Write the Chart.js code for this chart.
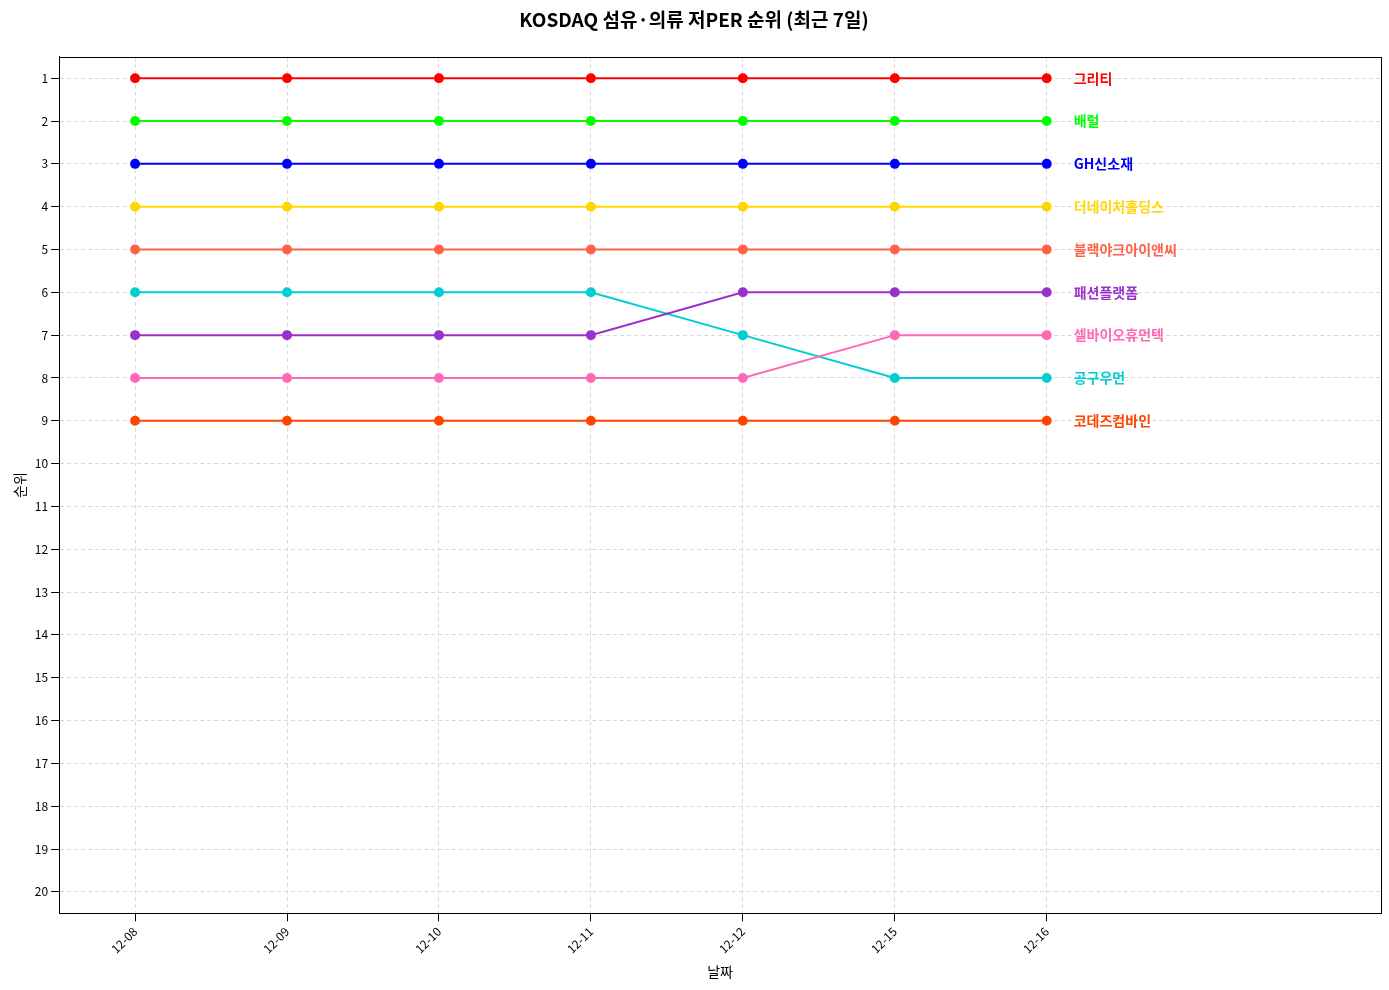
<!DOCTYPE html>
<html><head><meta charset="utf-8">
<script src="https://cdn.jsdelivr.net/npm/chart.js@4"></script>
<style>html,body{margin:0;padding:0;background:#fff}#wrap{width:1389px;height:990px}</style>
</head><body><div id="wrap"><canvas id="c" width="1389" height="990"></canvas></div>
<script>
const dates = ["12-08","12-09","12-10","12-11","12-12","12-15","12-16"];
const names = ["그리티","배럴","GH신소재","더네이처홀딩스","블랙야크아이앤씨","패션플랫폼","셀바이오휴먼텍","공구우먼","코데즈컴바인"];
const colors = ["#ff0000","#00ff00","#0000ff","#ffd700","#ff6347","#9932cc","#ff69b4","#00ced1","#ff4500"];
const r0 = [1,1,1,1,1,1,1];
const r1 = [2,2,2,2,2,2,2];
const r2 = [3,3,3,3,3,3,3];
const r3 = [4,4,4,4,4,4,4];
const r4 = [5,5,5,5,5,5,5];
const r5 = [7,7,7,7,6,6,6];
const r6 = [8,8,8,8,8,7,7];
const r7 = [6,6,6,6,7,8,8];
const r8 = [9,9,9,9,9,9,9];
const ranks = [r0,r1,r2,r3,r4,r5,r6,r7,r8];
const F = "'Noto Sans CJK KR', 'Noto Sans', sans-serif";
Chart.defaults.font.family = F;
Chart.defaults.color = "#000";
const datasets = names.map((n,i)=>({
  label:n, data: ranks[i].map((v,j)=>({x:j,y:v})),
  borderColor:colors[i], backgroundColor:colors[i], borderWidth:2,
  pointRadius:4, pointHoverRadius:4
}));
const endLabels = {
  id:'endLabels',
  afterDatasetsDraw(chart){
    const {ctx, scales:{x,y}, chartArea:a} = chart;
    ctx.save();
    ctx.strokeStyle = '#000'; ctx.lineWidth = 1;
    ctx.strokeRect(Math.round(a.left)+0.5, Math.round(a.top)+0.5, Math.round(a.right-a.left), Math.round(a.bottom-a.top));
    ctx.font = "bold 14px "+F;
    ctx.textBaseline = 'middle';
    names.forEach((n,i)=>{
      const last = ranks[i][ranks[i].length-1];
      ctx.fillStyle = colors[i];
      ctx.fillText(n, x.getPixelForValue(dates.length-1)+27, y.getPixelForValue(last));
    });
    ctx.restore();
  }
};
new Chart(document.getElementById('c'), {
  type:'line',
  data:{datasets},
  plugins:[endLabels],
  options:{
    responsive:false, animation:false,
    layout:{padding:{left:7,right:8,top:0,bottom:6}},
    plugins:{
      legend:{display:false}, tooltip:{enabled:false},
      title:{display:true,text:"KOSDAQ 섬유·의류 저PER 순위 (최근 7일)",font:{size:19,weight:'bold'},padding:{top:8,bottom:26}}
    },
    scales:{
      x:{type:'linear',min:-0.5,max:8.2,
        afterBuildTicks:(s)=>{s.ticks=dates.map((d,i)=>({value:i}));},
        ticks:{callback:(v)=>dates[v],maxRotation:45,minRotation:45,font:{size:12}},
        grid:{color:'#d9d9d9',tickColor:'#000',drawTicks:true},
        border:{color:'#000',dash:[4,3]},
        title:{display:true,text:"날짜",font:{size:14}}
      },
      y:{reverse:true,min:0.5,max:20.5,
        afterBuildTicks:(s)=>{s.ticks=Array.from({length:20},(_,i)=>({value:i+1}));},
        ticks:{font:{size:12}},
        grid:{color:'#d9d9d9',tickColor:'#000'},
        border:{color:'#000',dash:[4,3]},
        title:{display:true,text:"순위",font:{size:14}}
      }
    }
  }
});
</script></body></html>
